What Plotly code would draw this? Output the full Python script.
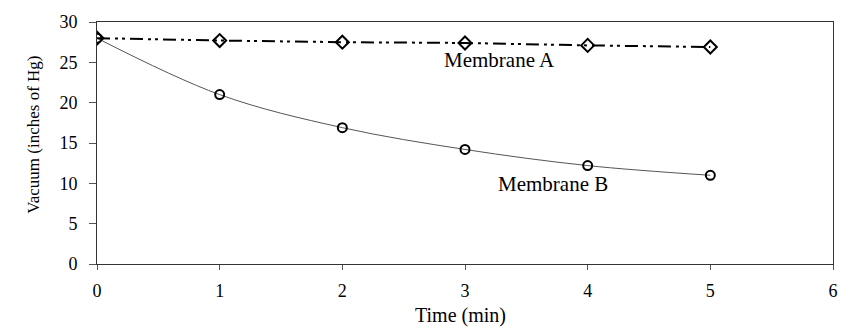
import plotly.graph_objects as go

time_min = [0, 1, 2, 3, 4, 5]
membrane_a = [28.0, 27.7, 27.5, 27.4, 27.1, 26.9]
membrane_b = [28.0, 21.0, 16.9, 14.2, 12.2, 11.0]
x_ticks = [0, 1, 2, 3, 4, 5, 6]
y_ticks = [0, 5, 10, 15, 20, 25, 30]

FONT = "Liberation Serif"

fig = go.Figure()
fig.add_trace(go.Scatter(
    x=time_min, y=membrane_b, mode="lines+markers", line_shape="spline",
    line=dict(color="#555555", width=1),
    marker=dict(symbol="circle-open", size=9, color="black", line=dict(width=2)),
    showlegend=False,
))
fig.add_trace(go.Scatter(
    x=time_min, y=membrane_a, mode="lines+markers",
    line=dict(color="black", width=2, dash="13px,5px,3px,4px,3px,5px"),
    marker=dict(symbol="diamond-open", size=10, color="black", line=dict(width=2)),
    showlegend=False,
))

fig.add_annotation(x=3.28, y=25.3, text="Membrane A", showarrow=False,
                   font=dict(family=FONT, size=21, color="black"))
fig.add_annotation(x=3.72, y=9.95, text="Membrane B", showarrow=False,
                   font=dict(family=FONT, size=21, color="black"))

# axis titles
fig.add_annotation(xref="paper", yref="paper", x=0.5 - 5 / 740, y=(264 - 317) / 250,
                   text="Time (min)", showarrow=False, xanchor="center", yanchor="middle",
                   font=dict(family=FONT, size=20, color="black"))
fig.add_annotation(xref="paper", yref="paper", x=(33 - 97) / 740, y=(264 - 130) / 250,
                   text="Vacuum (inches of Hg)", showarrow=False, textangle=-90,
                   xanchor="center", yanchor="middle",
                   font=dict(family=FONT, size=17, color="black"))

axis_common = dict(showgrid=False, zeroline=False, showline=True, linecolor="#333333",
                   linewidth=1, mirror=True, ticks="outside",
                   tickcolor="#555555", tickfont=dict(family=FONT, size=18, color="black"))

fig.update_xaxes(range=[0, 6], tickvals=x_ticks, ticklen=5, ticklabelstandoff=5, **axis_common)
fig.update_yaxes(range=[0, 30], tickvals=y_ticks, ticklen=7, ticklabelstandoff=8, **axis_common)

fig.update_layout(
    width=850, height=330,
    margin=dict(l=97, r=13, t=14, b=66),
    paper_bgcolor="white", plot_bgcolor="white",
)

fig.write_html("out.html")
